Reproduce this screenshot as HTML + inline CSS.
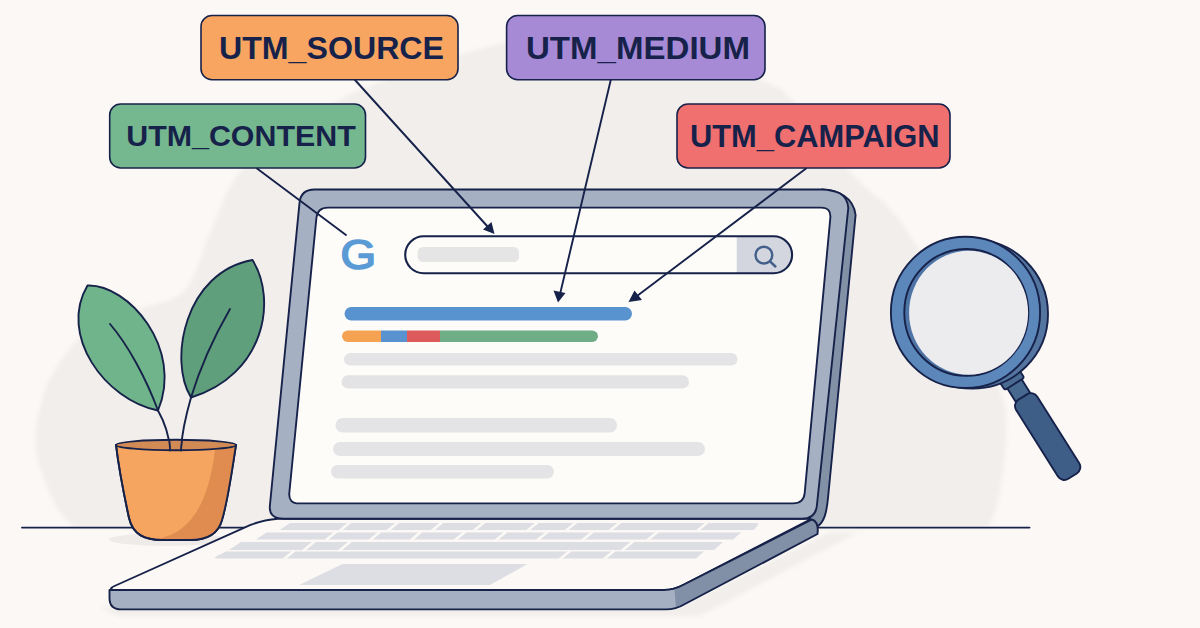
<!DOCTYPE html>
<html lang="en">
<head>
<meta charset="utf-8">
<title>UTM parameters illustration</title>
<style>
  html, body { margin: 0; padding: 0; background: #FBF8F5; }
  body { width: 1200px; height: 628px; overflow: hidden; }
  svg { display: block; }
  .lbl { font-family: "Liberation Sans", sans-serif; font-weight: bold; font-size: 30.6px; fill: #17224A; }
  #labels .ol { stroke-width: 1.6; }
  .ol { stroke: #17224A; stroke-width: 1.9; stroke-linejoin: round; stroke-linecap: round; }
</style>
</head>
<body>
<svg width="1200" height="628" viewBox="0 0 1200 628">
  <rect width="1200" height="628" fill="#FBF8F5"/>

  <!-- background blob -->
  <defs><filter id="soft" x="-5%" y="-5%" width="110%" height="110%"><feGaussianBlur stdDeviation="2.2"/></filter></defs>
  <path id="blob" filter="url(#soft)" fill="#F1EEEB" d="M75.0 528.0 C71.7 524.0 61.5 517.0 55.0 504.0 C48.5 491.0 38.2 467.3 36.0 450.0 C33.8 432.7 38.8 413.3 42.0 400.0 C45.2 386.7 49.2 379.8 55.0 370.0 C60.8 360.2 69.5 348.5 77.0 341.0 C84.5 333.5 89.5 330.3 100.0 325.0 C110.5 319.7 125.8 314.8 140.0 309.0 C154.2 303.2 173.3 302.7 185.0 290.0 C196.7 277.3 200.8 252.7 210.0 233.0 C219.2 213.3 225.0 190.0 240.0 172.0 C255.0 154.0 280.0 138.7 300.0 125.0 C320.0 111.3 330.0 102.7 360.0 90.0 C390.0 77.3 446.7 57.7 480.0 49.0 C513.3 40.3 526.7 37.5 560.0 38.0 C593.3 38.5 645.8 44.7 680.0 52.0 C714.2 59.3 745.8 73.5 765.0 82.0 C784.2 90.5 781.2 88.3 795.0 103.0 C808.8 117.7 832.0 152.2 848.0 170.0 C864.0 187.8 879.8 197.8 891.0 210.0 C902.2 222.2 903.5 226.3 915.0 243.0 C926.5 259.7 945.8 285.5 960.0 310.0 C974.2 334.5 992.3 368.3 1000.0 390.0 C1007.7 411.7 1006.3 421.7 1006.0 440.0 C1005.7 458.3 1001.0 485.3 998.0 500.0 C995.0 514.7 989.7 523.3 988.0 528.0 Z"/>

  <!-- desk line -->
  <path class="ol" fill="none" d="M22 527.600 H250 M818 527.600 H1029.500"/>

  <!-- ground shadows -->
  <ellipse cx="168" cy="539.500" rx="59" ry="6.500" fill="#EEEBE8"/>
  <path fill="#F1EEEB" filter="url(#soft)" d="M100 607 H680 L830 532 L858 532 L700 616 H118 Z"/>

  <!-- ===== plant ===== -->
  <g id="plant">
    <path class="ol" fill="#70B48B" d="M87.500 285.500 C128 284 184 348 158 410.500 C105 400 58 335 87.500 285.500 Z"/>
    <path class="ol" fill="none" d="M110 324 C128 345 146 378 158 410.5"/>
    <path class="ol" fill="#609F7B" d="M252.500 260 C277.500 300 264.500 375 191 397.500 C168 360 185 272 252.500 260 Z"/>
    <path class="ol" fill="none" d="M230 309 C215 335 200 368 191 397.5"/>
    <path class="ol" fill="none" d="M158 410.500 C165 423 169 436 170 449 M191 397.500 C186 415 182 432 181 449"/>
    <path class="ol" fill="#F5A55F" d="M116 445 C119 470 124 495 129 518 C133 535 145 540 162 540 H190 C205 540 218 535 222 520 C228 500 232 470 236 445 Z"/>
    <path fill="#E08C50" d="M236 445 C232 470 228 500 222 520 C218 535 205 540 190 540 H170 C166 540 163 539.500 160 538.500 C188 532 208 508 215 450 Z"/>
    <path class="ol" fill="none" d="M116 445 C119 470 124 495 129 518 C133 535 145 540 162 540 H190 C205 540 218 535 222 520 C228 500 232 470 236 445"/>
    <ellipse cx="176" cy="445" rx="60" ry="5.200" fill="#D38B56" class="ol"/>
    <path class="ol" fill="none" d="M169.300 441 C169.800 444 170 447 170 450.500 M182 441 C181.500 444 181 447 181 450.500"/>
  </g>

  <!-- ===== laptop ===== -->
  <g id="laptop">
    <!-- deck -->
    <path class="ol" fill="#FBF8F5" d="M278 518.700 H812 L684 584.500 Q674 589.900 664 589.900 H117 Q106.500 589.900 114.500 586 L250 525.200 Q262 520 278 518.700 Z"/>
    <!-- screen side depth -->
    <path class="ol" fill="#8391A7" d="M822 189.500 C838 190 853.500 197 855.600 215 L828.100 497 C826.500 514 824 522 817.500 526.500 L810 518.700 Z"/>
    <!-- bezel -->
    <path class="ol" fill="#A6B0C3" d="M314.500 189.500 H822 C828.400 189.700 834.700 190.900 840.100 193.500 Q847.500 198 848.300 208 L816.900 505.500 Q815.600 518.700 802 518.700 H283.500 Q268.600 518.700 269.900 505.500 L299.500 203 Q300.800 189.500 314.500 189.500 Z"/>
    <!-- screen -->
    <path class="ol" fill="#FDFCF9" d="M328 207.600 H821 Q831.300 207.600 830.300 218 L804.700 493 Q803.700 503.400 793 503.400 H299 Q288.400 503.400 289.300 493 L316.400 218 Q317.400 207.600 328 207.600 Z"/>

    <!-- ===== screen content ===== -->
    <g id="content">
      <text x="340.5" y="269.1" font-family="'Liberation Sans', sans-serif" font-size="41.8" fill="#5B9BD5" stroke="#5B9BD5" stroke-width="1.7" stroke-linejoin="round" textLength="35.6" lengthAdjust="spacingAndGlyphs">G</text>
      <!-- search bar -->
      <path fill="#D3D6DE" d="M736.700 236.300 H773.600 A18.500 18.500 0 0 1 773.600 273.300 H736.700 Z"/>
      <rect x="405.200" y="236.300" width="386.900" height="37" rx="18.500" fill="none" class="ol" style="stroke-width:2.1"/>
      <rect x="417.500" y="247" width="101.500" height="15" rx="5.500" fill="#E5E5E6"/>
      <circle cx="763.900" cy="255.100" r="8.400" fill="none" stroke="#44608A" stroke-width="2.400"/>
      <path d="M770 261.300 L775.400 266.500" stroke="#44608A" stroke-width="2.500" stroke-linecap="round" fill="none"/>
      <!-- result bars -->
      <rect x="344.5" y="307" width="287.5" height="13.5" rx="6.75" fill="#5993CF"/>
      <clipPath id="cb"><rect x="342" y="330.5" width="256" height="11.5" rx="5.75"/></clipPath>
      <g clip-path="url(#cb)">
        <rect x="342" y="330" width="39" height="13" fill="#F5A253"/>
        <rect x="381" y="330" width="26" height="13" fill="#5993CF"/>
        <rect x="407" y="330" width="33" height="13" fill="#DE5B5B"/>
        <rect x="440" y="330" width="158" height="13" fill="#6FAD87"/>
      </g>
      <rect x="344" y="353" width="393.5" height="12.5" rx="6.25" fill="#E4E4E6"/>
      <rect x="341.500" y="375.300" width="347.500" height="13.200" rx="6.600" fill="#E3E3E5"/>
      <rect x="335.5" y="418" width="281.5" height="14.5" rx="7.25" fill="#E4E4E6"/>
      <rect x="333" y="442" width="372" height="14" rx="7" fill="#E4E4E6"/>
      <rect x="331" y="465" width="223" height="13.5" rx="6.75" fill="#E4E4E6"/>
    </g>


    <!-- ===== keyboard ===== -->
    <g id="keys" fill="#DDDEE4">
      <path d="M290 523 H756 Q760 523 757 526 L754 530 H279.5 Z"/>
      <path d="M266.5 532.5 H741 L733 539.5 H256 Z"/>
      <path d="M241 542 H723 L714 550 H229 Z"/>
      <path d="M226 551.5 H704 L696 558.5 H218 Q212 558.5 217 556 Z"/>
      <path d="M342.5 564 H527.5 L490 585 H299 Z"/>
    </g>
    <g id="gaps" stroke="#FBF8F5" stroke-width="2.6" fill="none">
      <path d="M350.5 522 L339.5 531 M398.5 522 L387.5 531 M442.5 522 L431.5 531 M484.5 522 L473.5 531 M538 522 L527 531 M576.5 522 L565.5 531 M620.5 522 L609.5 531 M708 522 L697 531"/>
      <path d="M336.5 531.5 L325.5 540.5 M380.5 531.5 L369.5 540.5 M421.5 531.5 L410.5 540.5 M465.5 531.5 L454.5 540.5 M506.5 531.5 L495.5 540.5 M548 531.5 L537 540.5 M593 531.5 L582 540.5 M658 531.5 L647 540.5"/>
      <path d="M315 541 L303 551 M351 541 L339 551 M633.5 541 L621.5 551"/>
      <path d="M294.500 550.500 L283.500 559.500 M570.500 550.500 L559.500 559.500 M614.500 550.500 L603.500 559.500"/>
    </g>

    <!-- front + side faces -->
    <path fill="#A6B0C3" d="M109.500 590 H674 L812 519.500 Q819 522 817.500 534 L682 605.500 Q676 609.400 668 609.400 H121 Q109.500 609.400 109.500 598 Z"/>
    <path fill="#8190A6" d="M674.500 590 L812 519.500 Q819 522 817.500 534 L684 604.500 Q679 607.500 676 608.500 Z"/>
    <path class="ol" fill="none" d="M109.500 590 H664 Q674 590 684 584.500 L812 519.500 Q819 522 817.500 534 L684 604.500 Q676 609.400 666 609.400 H121 Q109.500 609.400 109.500 598 Z"/>
  </g>

  <!-- ===== magnifier ===== -->
  <g id="mag">
    <!-- handle -->
    <g transform="translate(1015.8 386) rotate(57.8)">
      <rect x="-10" y="-8.500" width="26" height="17" fill="#47698F" class="ol"/>
      <rect x="-12" y="-11.500" width="9.500" height="23" rx="2" fill="#4A6C93" class="ol"/>
      <rect x="13" y="-12.500" width="93.500" height="25" rx="7.500" fill="#3E5E88" class="ol"/>
    </g>
    <!-- ring depth -->
    <ellipse cx="972.500" cy="314" rx="75.500" ry="74.600" fill="#53759F" class="ol"/>
    <ellipse cx="965.500" cy="312.400" rx="74.600" ry="75.600" fill="#5C87BA" class="ol"/>
    <ellipse cx="966.300" cy="312.400" rx="62" ry="63.400" fill="#4E74A6" class="ol"/>
    <ellipse cx="968.600" cy="312.700" rx="59.500" ry="62" fill="#ECECEF"/>
  </g>

  <!-- ===== arrows ===== -->
  <g id="arrows" stroke="#17224A" stroke-width="1.9" fill="none" stroke-linecap="round">
    <path d="M257 168.500 L346 235"/>
    <path d="M355 80 L488 227"/>
    <path d="M610.750 80 L560.300 293"/>
    <path d="M806 168.500 L637 296"/>
  </g>
  <g id="heads" fill="#17224A">
    <path d="M494.500 234 L483 229.500 L491.500 222 Z"/>
    <path d="M558 302.500 L553.500 290.500 L565.500 293 Z"/>
    <path d="M628.500 302 L634.500 290.500 L642 300 Z"/>
  </g>

  <!-- ===== labels ===== -->
  <g id="labels">
    <rect x="201" y="15.500" width="257" height="64.200" rx="11" fill="#F7A560" class="ol"/>
    <text class="lbl" x="219" y="59" textLength="225" lengthAdjust="spacingAndGlyphs">UTM_SOURCE</text>
    <rect x="506.600" y="15.500" width="258.400" height="64.200" rx="11" fill="#A68AD6" class="ol"/>
    <text class="lbl" x="526" y="59" textLength="224" lengthAdjust="spacingAndGlyphs">UTM_MEDIUM</text>
    <rect x="109.700" y="104" width="255.800" height="64" rx="11" fill="#75B88F" class="ol"/>
    <text class="lbl" x="126.200" y="146" style="font-size:30.1px" textLength="229.600" lengthAdjust="spacingAndGlyphs">UTM_CONTENT</text>
    <rect x="677" y="104" width="273" height="64" rx="11" fill="#F06F6F" class="ol"/>
    <text class="lbl" x="690" y="147" textLength="249.500" lengthAdjust="spacingAndGlyphs">UTM_CAMPAIGN</text>
  </g>
</svg>
</body>
</html>
